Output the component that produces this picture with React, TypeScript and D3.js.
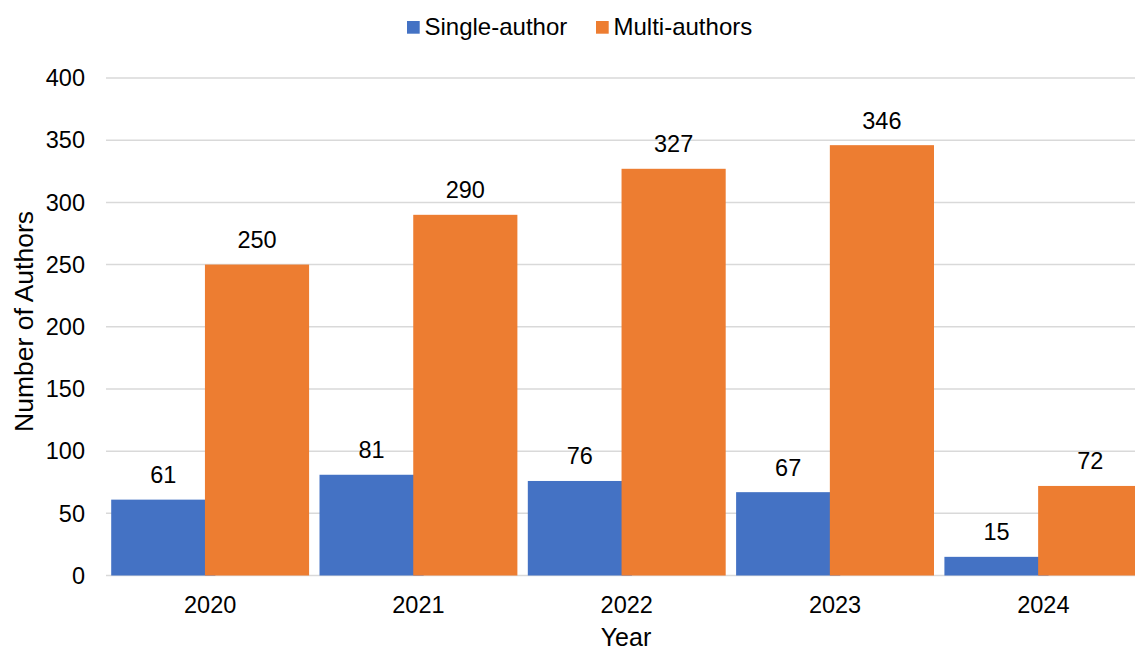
import React, { useEffect, useRef } from 'react';
import * as d3 from 'd3';

const years = ['2020', '2021', '2022', '2023', '2024'];
const seriesNames = ['Single-author', 'Multi-authors'];
const singleAuthor = [61, 81, 76, 67, 15];
const multiAuthors = [250, 290, 327, 346, 72];
const yTicks = [0, 50, 100, 150, 200, 250, 300, 350, 400];
const colors = ['#4472C4', '#ED7D31'];

const WIDTH = 1135;
const HEIGHT = 652;
const FONT = '"Liberation Sans", Arial, sans-serif';

const App = () => {
  const ref = useRef<SVGSVGElement>(null);

  useEffect(() => {
    const svg = d3.select(ref.current);
    svg.selectAll('*').remove();

    const plot = { left: 106, right: 1147.5, top: 78, bottom: 575.5 };

    const x0 = d3
      .scaleBand<string>()
      .domain(years)
      .range([plot.left, plot.right])
      .paddingInner(0.05)
      .paddingOuter(0.025);

    const y = d3.scaleLinear().domain([0, 400]).range([plot.bottom, plot.top]);

    // bars overlap a little inside each group (orange drawn over blue)
    const overlap = 0.1;
    const barW = x0.bandwidth() / (2 - overlap);
    const barStep = barW * (1 - overlap);

    // gridlines
    svg
      .append('g')
      .selectAll('line')
      .data(yTicks)
      .join('line')
      .attr('x1', plot.left)
      .attr('x2', WIDTH)
      .attr('y1', (d) => y(d))
      .attr('y2', (d) => y(d))
      .attr('stroke', '#d9d9d9')
      .attr('stroke-width', 1.5);

    // y tick labels
    svg
      .append('g')
      .selectAll('text')
      .data(yTicks)
      .join('text')
      .attr('x', 85)
      .attr('y', (d) => y(d))
      .attr('dy', '0.35em')
      .attr('text-anchor', 'end')
      .attr('font-family', FONT)
      .attr('font-size', 23.5)
      .attr('fill', '#000')
      .text((d) => d);

    const series = [singleAuthor, multiAuthors];
    series.forEach((vals, si) => {
      svg
        .append('g')
        .selectAll('rect')
        .data(vals)
        .join('rect')
        .attr('x', (_, i) => (x0(years[i]) as number) + si * barStep)
        .attr('y', (d) => y(d))
        .attr('width', barW)
        .attr('height', (d) => y(0) - y(d))
        .attr('fill', colors[si]);
    });

    // value labels
    series.forEach((vals, si) => {
      svg
        .append('g')
        .selectAll('text')
        .data(vals)
        .join('text')
        .attr('x', (_, i) => (x0(years[i]) as number) + si * barStep + barW / 2)
        .attr('y', (d) => y(d) - 16.5)
        .attr('text-anchor', 'middle')
        .attr('font-family', FONT)
        .attr('font-size', 23.5)
        .attr('fill', '#000')
        .text((d) => d);
    });

    // x labels
    svg
      .append('g')
      .selectAll('text')
      .data(years)
      .join('text')
      .attr('x', (d) => (x0(d) as number) + x0.bandwidth() / 2)
      .attr('y', 612.5)
      .attr('text-anchor', 'middle')
      .attr('font-family', FONT)
      .attr('font-size', 23.5)
      .attr('fill', '#000')
      .text((d) => d);

    // axis titles
    svg
      .append('text')
      .attr('x', 626)
      .attr('y', 646)
      .attr('text-anchor', 'middle')
      .attr('font-family', FONT)
      .attr('font-size', 25)
      .attr('fill', '#000')
      .text('Year');

    svg
      .append('text')
      .attr('transform', 'rotate(-90)')
      .attr('x', -321.5)
      .attr('y', 33)
      .attr('text-anchor', 'middle')
      .attr('font-family', FONT)
      .attr('font-size', 26.5)
      .attr('fill', '#000')
      .text('Number of Authors');

    // legend
    const legendX = [407, 596];
    const legend = svg
      .append('g')
      .selectAll('g')
      .data(seriesNames)
      .join('g')
      .attr('transform', (_, i) => `translate(${legendX[i]},0)`);
    legend
      .append('rect')
      .attr('x', 0)
      .attr('y', 21)
      .attr('width', 12.7)
      .attr('height', 12.7)
      .attr('fill', (_, i) => colors[i]);
    legend
      .append('text')
      .attr('x', 17.5)
      .attr('y', 35)
      .attr('font-family', FONT)
      .attr('font-size', 24)
      .attr('fill', '#000')
      .text((d) => d);
  }, []);

  return (
    <svg
      ref={ref}
      width={WIDTH}
      height={HEIGHT}
      style={{ position: 'absolute', left: 0, top: 0, background: '#fff' }}
    />
  );
};

export default App;
